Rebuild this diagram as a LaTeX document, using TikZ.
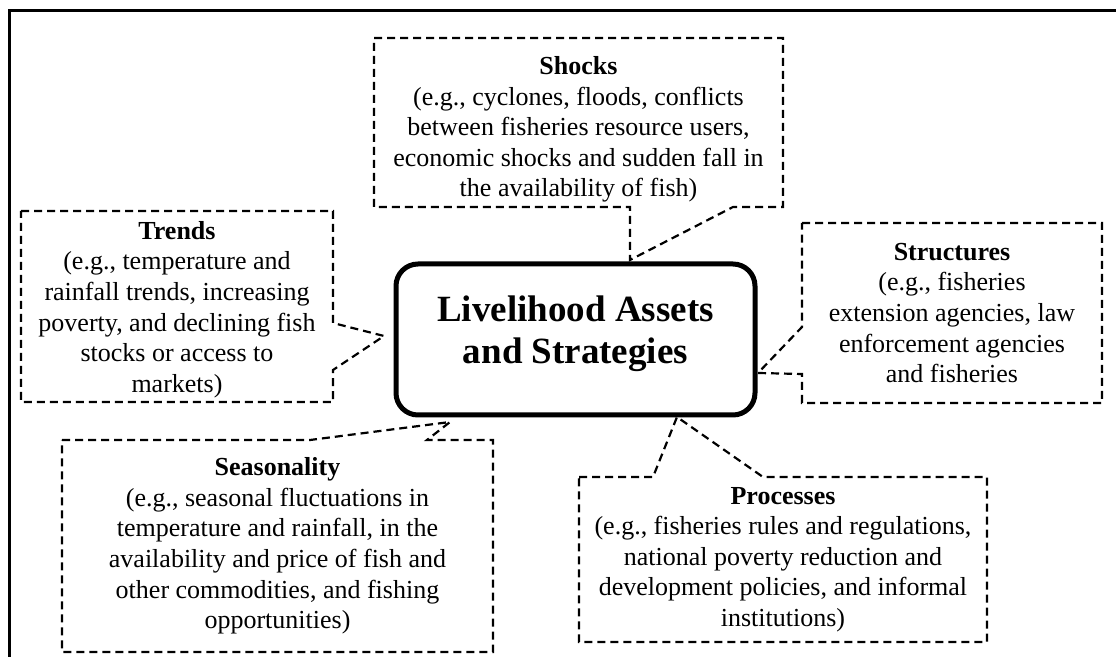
\documentclass[tikz,border=0pt]{standalone}
\usepackage{fontspec}
\setmainfont{Liberation Serif}
\usepackage{tikz}
\usetikzlibrary{positioning}

\begin{document}
\begin{tikzpicture}[x=0.5pt, y=-0.5pt,
		box/.style 2 args={inner sep=0pt, outer sep=0pt, align=center,
			minimum width=#1*0.5pt, minimum height=#2*0.5pt,
			font=\fontsize{13pt}{15.3pt}\selectfont},
		calloutline/.style={line width=1.1pt, dash pattern=on 4pt off 2.5pt, line join=miter},
		corebox/.style={draw, line width=2.5pt, rounded corners=11pt, inner sep=0pt,
			minimum width=179.5pt, minimum height=75.5pt, align=center,
			font=\fontsize{18.5pt}{21pt}\selectfont\bfseries}]
	\useasboundingbox (0,0) rectangle (1116,657);
	
	% outer frame
	\draw [line width=1.5pt] (9,657) -- (9,10.5) -- (1116,10.5);
	
	% centre box
	\node [corebox] (core) at (575.5,339.5) {Livelihood Assets\\and Strategies\rule[-10pt]{0pt}{0pt}};
	
	% boxes round it
	\node [box={409}{169}] (shocks) at (578.5,122.5) {\rule{0pt}{16pt}\textbf{Shocks}\\(e.g., cyclones, floods, conflicts\\between fisheries resource users,\\economic shocks and sudden fall in\\the availability of fish)};
	\node [box={312}{191}] (trends) at (177,306.5) {\rule{0pt}{12pt}\textbf{Trends}\\(e.g., temperature and\\rainfall trends, increasing\\poverty, and declining fish\\stocks or access to\\markets)};
	\node [box={300}{180}] (structures) at (952,313) {\textbf{Structures}\\(e.g., fisheries\\extension agencies, law\\enforcement agencies\\and fisheries};
	\node [box={431}{212}] (seasonality) at (277.5,546) {\textbf{Seasonality}\\(e.g., seasonal fluctuations in\\temperature and rainfall, in the\\availability and price of fish and\\other commodities, and fishing\\opportunities)};
	\node [box={408}{165}] (processes) at (783,559.5) {\textbf{Processes}\\(e.g., fisheries rules and regulations,\\national poverty reduction and\\development policies, and informal\\institutions)};
	
	% pointer tips at the centre box
	\coordinate (shocksTip) at (630,260);
	\coordinate (trendsTip) at (384,336);
	\coordinate (structTip) at (758,373);
	\coordinate (seasonTip) at (450,422);
	\coordinate (procTip) at (677,417);
	
	% dashed callout outlines
	\draw [calloutline] (shocks.north west) -- (shocks.north east) -- (shocks.south east)
		-- (733,207) -- (shocksTip) -- (shocks.south -| shocksTip) -- (shocks.south west) -- cycle;
	\draw [calloutline] (trends.north west) -- (trends.north east) -- (333,323)
		-- (trendsTip) -- (333,370) -- (trends.south east) -- (trends.south west) -- cycle;
	\draw [calloutline] (structures.north west) -- (structures.north east) -- (structures.south east)
		-- (structures.south west) -- (802,374) -- (structTip) -- (802,327) -- cycle;
	\draw [calloutline] (seasonality.north west) -- (310,440) -- (seasonTip) -- (427,440)
		-- (seasonality.north east) -- (seasonality.south east) -- (seasonality.south west) -- cycle;
	\draw [calloutline] (processes.north west) -- (653,477) -- (procTip) -- (763,477)
		-- (processes.north east) -- (processes.south east) -- (processes.south west) -- cycle;
\end{tikzpicture}
\end{document}
